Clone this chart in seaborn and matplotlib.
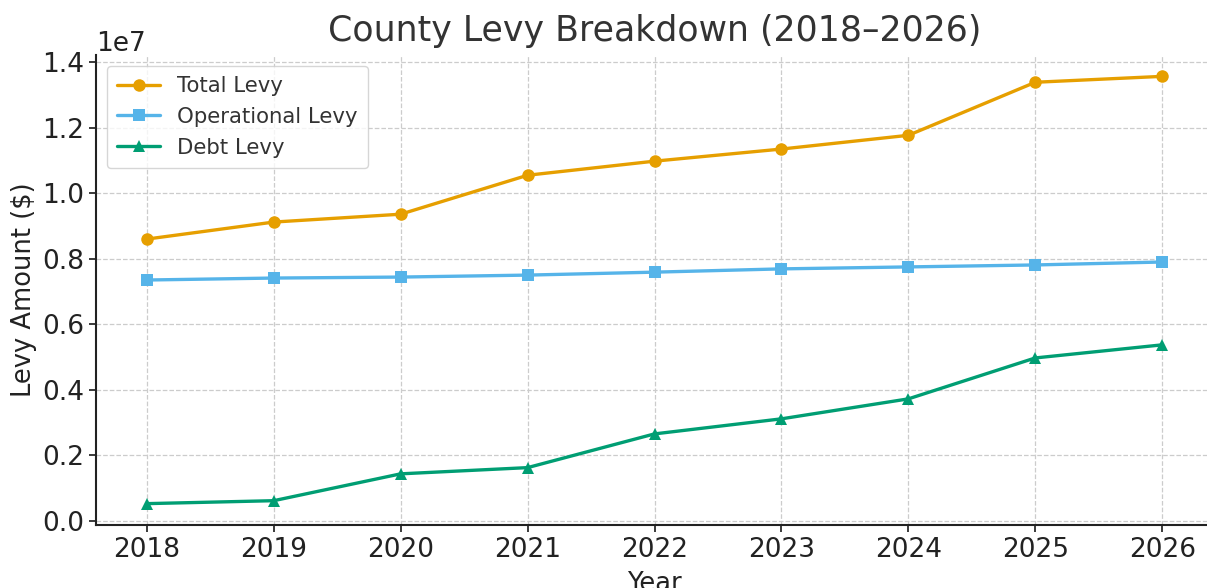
import pandas as pd
import numpy as np
import matplotlib.pyplot as plt
import seaborn as sns

years = [2018, 2019, 2020, 2021, 2022, 2023, 2024, 2025, 2026]
total_levy = [8.60e6, 9.12e6, 9.36e6, 1.055e7, 1.098e7, 1.135e7, 1.177e7, 1.339e7, 1.357e7]
operational_levy = [7.35e6, 7.41e6, 7.44e6, 7.50e6, 7.59e6, 7.69e6, 7.75e6, 7.81e6, 7.90e6]
debt_levy = [0.52e6, 0.61e6, 1.43e6, 1.62e6, 2.65e6, 3.11e6, 3.72e6, 4.97e6, 5.37e6]

df = pd.DataFrame({
    "Year": years,
    "Total Levy": total_levy,
    "Operational Levy": operational_levy,
    "Debt Levy": debt_levy,
})
long_df = df.melt(id_vars="Year", var_name="Series", value_name="Levy")

sns.set_theme(style="ticks")
plt.rcParams["font.family"] = ["DejaVu Sans"]

fig = plt.figure(figsize=(12.07, 5.88), dpi=100)
ax = fig.add_axes([96 / 1207, 1 - 525 / 588, (1213 - 96) / 1207, (525 - 55) / 588])

colors = {"Total Levy": "#E69F00", "Operational Levy": "#56B4E9", "Debt Levy": "#009E73"}
markers = {"Total Levy": "o", "Operational Levy": "s", "Debt Levy": "^"}

sns.lineplot(
    data=long_df, x="Year", y="Levy", hue="Series", style="Series",
    palette=colors, markers=markers, dashes=False,
    linewidth=2.4, markersize=9, markeredgewidth=0, ax=ax,
)

ax.set_xticks(years)
ax.grid(True, linestyle="--", color="#cccccc", linewidth=0.9)
ax.tick_params(labelsize=19, colors="#222222", length=5)
ax.yaxis.get_offset_text().set_fontsize(19)
ax.set_xlabel("Year", fontsize=18.5, color="#222222", labelpad=6)
ax.set_ylabel("Levy Amount ($)", fontsize=18.5, color="#222222")
ax.set_title("County Levy Breakdown (2018\u20132026)", fontsize=25, color="#333333", pad=10)
sns.despine(ax=ax)
for s in ["left", "bottom"]:
    ax.spines[s].set_color("#222222")
    ax.spines[s].set_linewidth(1.5)

leg = ax.legend(loc="upper left", fontsize=15.3, frameon=True, borderpad=0.5)
leg.get_frame().set_edgecolor("#cccccc")
for t in leg.get_texts():
    t.set_color("#333333")

fig.savefig("out.png", dpi=100)
